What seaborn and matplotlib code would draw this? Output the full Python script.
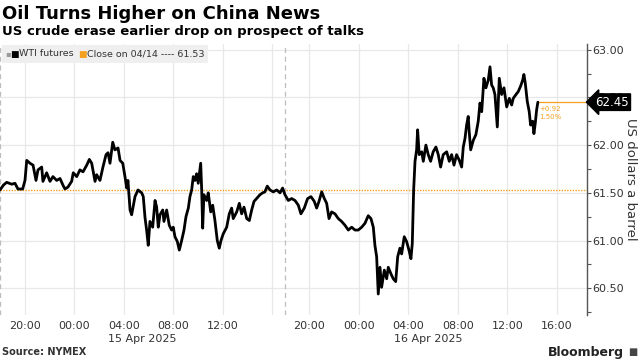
import numpy as np
import pandas as pd
import seaborn as sns
import matplotlib.pyplot as plt
import matplotlib.transforms as mtransforms
from matplotlib.patches import Rectangle
from matplotlib.ticker import FixedLocator, MultipleLocator, FormatStrFormatter

# Hours since the 18:00 open on 14 Apr (the 17:00-18:00 break on 15 Apr is cut out)
hours = [0.00, 0.27, 0.54, 0.95, 1.21, 1.45, 1.83, 2.02, 2.16, 2.42, 2.67, 2.91, 3.07, 3.37,
         3.47, 3.77, 4.04, 4.28, 4.58, 4.85, 5.09, 5.25, 5.49, 5.79, 5.92, 6.20, 6.46, 6.71,
         7.01, 7.22, 7.41, 7.68, 7.81, 8.08, 8.32, 8.57, 8.73, 8.89, 9.11, 9.29, 9.54, 9.70,
         9.92, 10.10, 10.24, 10.34, 10.51, 10.64, 10.91, 11.15, 11.45, 11.58, 11.72, 11.85,
         11.98, 12.12, 12.34, 12.53, 12.66, 12.79, 12.93, 13.15, 13.25, 13.47, 13.68, 13.87,
         14.00, 14.14, 14.33, 14.49, 14.68, 14.87, 15.03, 15.22, 15.35, 15.49, 15.62, 15.76,
         15.89, 16.02, 16.22, 16.30, 16.38, 16.48, 16.70, 16.83, 17.03, 17.19, 17.37, 17.56,
         17.72, 17.86, 18.04, 18.32, 18.53, 18.72, 18.85, 19.13, 19.34, 19.53, 19.72, 19.94,
         20.15, 20.34, 20.53, 20.74, 21.01, 21.23, 21.41, 21.60, 21.82, 22.08, 22.36, 22.63,
         22.84, 23.03, 23.30, 23.57, 23.84, 24.11, 24.32, 24.59, 24.86, 25.13, 25.40, 25.59,
         25.78, 26.00, 26.21, 26.40, 26.59, 26.80, 27.07, 27.34, 27.61, 27.88, 28.15, 28.42,
         28.69, 28.95, 29.23, 29.49, 29.76, 29.98, 30.17, 30.30, 30.44, 30.57, 30.71, 30.84,
         31.06, 31.25, 31.38, 31.60, 31.78, 31.98, 32.14, 32.32, 32.46, 32.67, 32.86, 33.05,
         33.21, 33.32, 33.43, 33.54, 33.67, 33.75, 33.88, 34.08, 34.21, 34.42, 34.61, 34.80,
         35.01, 35.23, 35.42, 35.61, 35.82, 36.10, 36.31, 36.50, 36.69, 36.90, 37.12, 37.31,
         37.44, 37.58, 37.71, 37.84, 37.92, 38.04, 38.25, 38.46, 38.65, 38.79, 38.93, 39.11,
         39.27, 39.46, 39.60, 39.73, 39.86, 40.00, 40.19, 40.35, 40.54, 40.73, 40.95, 41.16,
         41.35, 41.48, 41.70, 41.88, 42.08, 42.24, 42.34, 42.45, 42.61, 42.77, 42.88, 43.05,
         43.15, 43.26, 43.37, 43.47]
price = [61.53, 61.58, 61.61, 61.59, 61.60, 61.54, 61.54, 61.63, 61.84, 61.81, 61.79, 61.63, 61.74, 61.77,
         61.62, 61.71, 61.62, 61.67, 61.63, 61.65, 61.58, 61.54, 61.56, 61.62, 61.71, 61.67, 61.74, 61.72,
         61.79, 61.85, 61.81, 61.62, 61.69, 61.63, 61.77, 61.90, 61.92, 61.81, 62.03, 61.95, 61.97, 61.84,
         61.81, 61.67, 61.55, 61.63, 61.32, 61.27, 61.46, 61.53, 61.50, 61.46, 61.24, 61.11,
         60.95, 61.20, 61.14, 61.42, 61.35, 61.14, 61.27, 61.32, 61.20, 61.32, 61.16, 61.11,
         61.14, 61.04, 60.99, 60.90, 61.00, 61.11, 61.25, 61.34, 61.46, 61.53, 61.67, 61.63,
         61.70, 61.60, 61.81, 61.53, 61.13, 61.48, 61.42, 61.50, 61.30, 61.37, 61.21, 61.00,
         60.92, 61.00, 61.07, 61.14, 61.28, 61.34, 61.23, 61.30, 61.39, 61.28, 61.35, 61.23,
         61.21, 61.32, 61.41, 61.44, 61.48, 61.50, 61.51, 61.57, 61.53, 61.51, 61.53, 61.50,
         61.55, 61.48, 61.42, 61.44, 61.42, 61.37, 61.28, 61.34, 61.44, 61.46, 61.41, 61.34,
         61.41, 61.51, 61.44, 61.39, 61.23, 61.30, 61.28, 61.23, 61.20, 61.16, 61.11, 61.14,
         61.11, 61.11, 61.14, 61.18, 61.26, 61.23, 61.14, 60.95, 60.83, 60.44, 60.72, 60.51,
         60.69, 60.60, 60.72, 60.65, 60.60, 60.57, 60.83, 60.92, 60.86, 61.04, 60.99, 60.90,
         60.81, 60.97, 61.53, 61.83, 61.95, 62.16, 61.90, 61.93, 61.83, 62.00, 61.90, 61.83,
         61.93, 61.98, 61.90, 61.77, 61.90, 61.93, 61.83, 61.90, 61.79, 61.90, 61.84, 61.77,
         61.98, 62.07, 62.21, 62.30, 62.14, 61.95, 62.05, 62.11, 62.25, 62.44, 62.35, 62.70,
         62.60, 62.68, 62.82, 62.63, 62.60, 62.53, 62.19, 62.70, 62.53, 62.60, 62.40, 62.49,
         62.42, 62.49, 62.53, 62.56, 62.62, 62.68, 62.74, 62.65, 62.46, 62.35, 62.21, 62.25,
         62.12, 62.23, 62.37, 62.45]

prev_close = 61.53
last_price = 62.45
change_txt = "+0.92"
change_pct = "1.50%"

tick_hours = [2, 6, 10, 14, 18, 22, 25, 29, 33, 37, 41, 45]
tick_labels = ['20:00', '00:00', '04:00', '08:00', '12:00', '',
               '20:00', '00:00', '04:00', '08:00', '12:00', '16:00']
session_breaks = [0, 23]

ORANGE = '#f4a020'
GRID = '#e8e8e8'
TXT = '#333333'

df = pd.DataFrame({'hours': hours, 'price': price})

sns.set_theme(style='white')
plt.rcParams['font.family'] = ['DejaVu Sans']

fig = plt.figure(figsize=(6.4, 3.6), dpi=100)
ax = fig.add_axes([0.0, 0.125, 0.917, 0.753])

xmax = 47.43
ax.set_xlim(0, xmax)
ax.set_ylim(60.22, 63.06)

# grid
for h in tick_hours:
    ax.axvline(h, color=GRID, lw=0.9, zorder=0)
for v in [60.5, 61.0, 61.5, 62.0, 62.5, 63.0]:
    ax.axhline(v, color=GRID, lw=0.9, zorder=0)
for b in session_breaks:
    ax.axvline(b, color='#bdbdbd', lw=0.9, ls=(0, (4, 3)), zorder=0)

ax.axhline(prev_close, color=ORANGE, lw=1.0, ls=(0, (1, 1)), zorder=1)

sns.lineplot(data=df, x='hours', y='price', color='black', lw=2.0, ax=ax, zorder=3)

ax.hlines(last_price, hours[-1], xmax, color=ORANGE, lw=0.9, zorder=2)
ax.text(hours[-1] + 0.1, last_price - 0.07, change_txt, color=ORANGE, fontsize=5,
        va='center', ha='left')
ax.text(hours[-1] + 0.1, last_price - 0.16, change_pct, color=ORANGE, fontsize=5,
        va='center', ha='left')

# axes styling
for s in ['left', 'top', 'bottom']:
    ax.spines[s].set_visible(False)
ax.spines['right'].set_color('#555555')
ax.spines['right'].set_linewidth(1.0)
ax.yaxis.tick_right()
ax.yaxis.set_label_position('right')
ax.yaxis.set_major_locator(MultipleLocator(0.5))
ax.yaxis.set_minor_locator(MultipleLocator(0.25))
ax.yaxis.set_major_formatter(FormatStrFormatter('%.2f'))
ax.tick_params(axis='y', which='both', right=True, length=3, width=0.8, color='#555555',
               labelsize=8, labelcolor=TXT, pad=1)
ax.xaxis.set_major_locator(FixedLocator(tick_hours))
ax.set_xticklabels(tick_labels)
ax.tick_params(axis='x', bottom=False, length=0, labelsize=8, labelcolor=TXT, pad=4)
ax.set_xlabel('')
ax.set_ylabel('US dollars a barrel', rotation=270, fontsize=9.5, color=TXT, labelpad=9)

# last price tag
tr = mtransforms.blended_transform_factory(ax.transAxes, ax.transData)
ax.text(1.014, last_price, '62.45', transform=tr, color='white', fontsize=8.5,
        va='center', ha='left', zorder=10, clip_on=False,
        bbox=dict(boxstyle='larrow,pad=0.15', fc='black', ec='black'))

# date labels under the ticks
trx = mtransforms.blended_transform_factory(ax.transData, fig.transFigure)
ax.text(11.5, 0.058, '15 Apr 2025', transform=trx, fontsize=8, color=TXT, ha='center', va='center')
ax.text(34.6, 0.058, '16 Apr 2025', transform=trx, fontsize=8, color=TXT, ha='center', va='center')

# titles
fig.text(0.003, 0.985, 'Oil Turns Higher on China News', fontsize=13, weight='bold',
         va='top', ha='left', color='black')
fig.text(0.003, 0.93, 'US crude erase earlier drop on prospect of talks', fontsize=9.5,
         weight='bold', va='top', ha='left', color='black')

# legend strip
fig.patches.append(Rectangle((2 / 640, 1 - 63 / 360), 206 / 640, 18 / 360,
                             transform=fig.transFigure, fc='#efefef', ec='none', zorder=5))
fig.text(5 / 640, 1 - 54 / 360, '\u25aa', fontsize=6, color='#999999', va='center', ha='left', zorder=6)
fig.text(10 / 640, 1 - 54 / 360, '\u25a0', fontsize=6.5, color='black', va='center', ha='left', zorder=6)
fig.text(19 / 640, 1 - 54 / 360, 'WTI futures', fontsize=6.8, color=TXT, va='center', ha='left', zorder=6)
fig.text(78 / 640, 1 - 54 / 360, '\u25a0', fontsize=6.5, color=ORANGE, va='center', ha='left', zorder=6)
fig.text(87 / 640, 1 - 54 / 360, 'Close on 04/14 ---- 61.53', fontsize=6.8, color=TXT,
         va='center', ha='left', zorder=6)

# footer
fig.text(0.003, 0.022, 'Source: NYMEX', fontsize=7, weight='bold', color=TXT, va='center', ha='left')
fig.text(0.975, 0.022, 'Bloomberg', fontsize=9, weight='bold', color='#222222', va='center', ha='right')
fig.text(0.996, 0.022, '\u25a0', fontsize=7, color='#444444', va='center', ha='right')

fig.savefig('out.png', dpi=100)
